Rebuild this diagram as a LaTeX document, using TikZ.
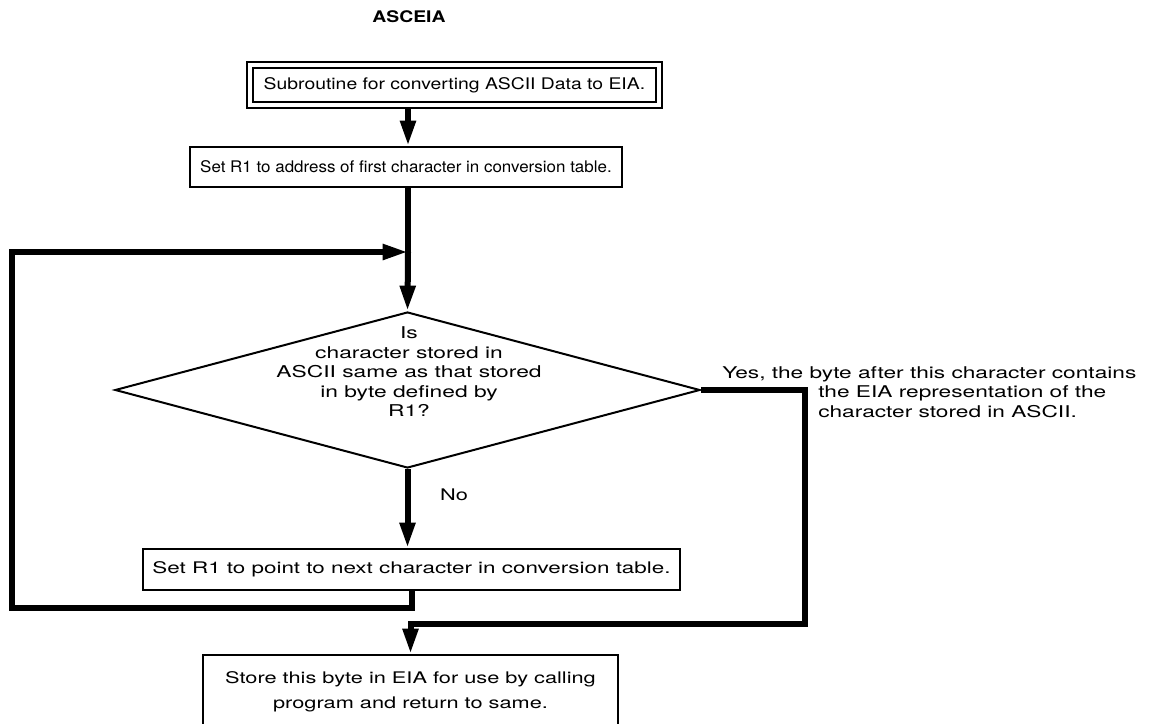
\documentclass[tikz,border=0pt]{standalone}
\usepackage{fontspec}
\setmainfont{TeX Gyre Heros}[FakeStretch=1.36]
\newfontfamily\narrowfam{TeX Gyre Heros}[FakeStretch=1.06]
\newfontfamily\midfam{TeX Gyre Heros}[FakeStretch=1.21]
\newfontfamily\widefam{TeX Gyre Heros}[FakeStretch=1.40]
\usetikzlibrary{arrows.meta,shapes.geometric,fit}

\tikzset{
  box/.style={draw, line width=1.5pt, rectangle, inner sep=0pt, align=center},
  flow/.style={line width=4.5pt, line join=miter, -{Triangle[length=19pt,width=11pt]}},
  plainflow/.style={line width=4.5pt, line join=miter},
  txt/.style={inner sep=0pt, align=center},
}

\begin{document}
\begin{tikzpicture}[x=0.75pt, y=-0.75pt, font=\fontsize{12}{14.6}\selectfont]
\useasboundingbox (0,0) rectangle (1150,724);

% title
\node[txt, font=\fontsize{12}{14}\midfam\bfseries] (title) at (409,17) {ASCEIA};

% entry box with double border
\node[box, line width=2pt, minimum width=302.25pt, minimum height=25.5pt,
      font=\fontsize{12}{14}\midfam] (top) at (454.5,85)
      {Subroutine for converting ASCII Data to EIA.};
\node[draw, line width=1pt, fit=(top), inner sep=3.5pt] (topouter) {};

% initialise pointer
\node[box, minimum width=324pt, minimum height=30pt, font=\fontsize{12}{14}\narrowfam] (box1) at (406,167)
      {Set R1 to address of first character in conversion table.};

% comparison
\node[draw, line width=1.5pt, shape=diamond, inner sep=0pt,
      minimum width=438.75pt, minimum height=117pt] (dec) at (407.5,390) {};
\node[txt, font=\fontsize{12.2}{14.6}\widefam] (dectxt) at (409,372)
      {Is\\character stored in\\ASCII same as that stored\\in byte defined by\\R1?};

% advance pointer
\node[box, minimum width=402.75pt, minimum height=30.75pt, font=\fontsize{12}{14}\widefam] (box2) at (411.5,569.5)
      {Set R1 to point to next character in conversion table.};

% store result
\node[box, minimum width=311.25pt, minimum height=55.5pt, font=\fontsize{12}{18.75}\selectfont] (box3) at (410.5,692)
      {Store this byte in EIA for use by calling\\program and return to same.};

% labels
\node[txt] (no) at (454,495) {No};
\node[txt, align=left, anchor=west, font=\fontsize{12.15}{14.6}\widefam] (yes) at (722,392)
      {Yes, the byte after this character contains\\
       \hspace*{72pt}the EIA representation of the\\
       \hspace*{72pt}character stored in ASCII.};

% connectors
\coordinate (merge) at (408,252);
\coordinate (loopBL) at (12,608);
\coordinate (yesC) at (805,624);

\draw[flow] (topouter.south -| merge) -- (box1.north -| merge);
\draw[plainflow] (box1.south -| merge) -- (merge);
\draw[flow] (merge) -- (dec.north);
\draw[flow] (dec.south) -- (dec.south |- box2.north);
\draw[flow] (box2.south) |- (loopBL) |- (merge);
\draw[flow] (dec.east) -| (yesC) -| (box3.north);

\end{tikzpicture}
\end{document}
